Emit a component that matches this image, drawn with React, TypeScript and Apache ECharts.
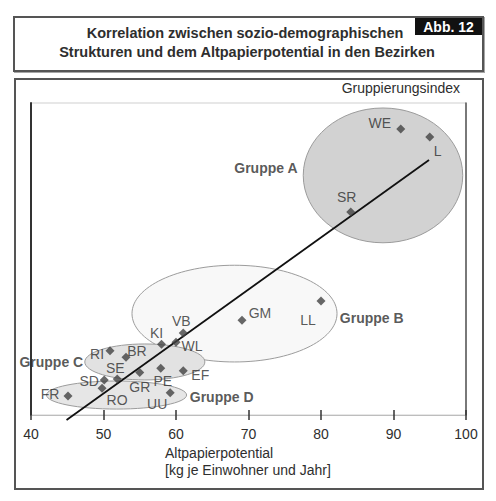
import React, { useEffect, useRef } from 'react'
import * as echarts from 'echarts'

// Bezirke: Altpapierpotential (kg je Einwohner und Jahr) und Gruppierungsindex
const districts = ['WE', 'L', 'SR', 'LL', 'GM', 'VB', 'KI', 'WL', 'RI', 'BR', 'SE', 'GR', 'PE', 'EF', 'SD', 'RO', 'FR', 'UU']
const altpapier = [91.0, 95.0, 84.1, 80.0, 69.1, 61.0, 58.0, 60.0, 50.9, 53.1, 51.9, 55.0, 57.9, 61.0, 50.1, 49.8, 45.1, 59.2]
const gruppierung = [91.7, 89.1, 65.1, 36.5, 30.4, 26.3, 22.7, 23.3, 20.6, 18.5, 11.5, 13.6, 15.0, 14.2, 11.2, 8.6, 6.1, 7.1]

// Regressionsgerade
const trendX = [44.9, 94.9]
const trendY = [-1.6, 81.7]

// Gruppen (Ellipsen)
const groupNames = ['Gruppe A', 'Gruppe B', 'Gruppe C', 'Gruppe D']
const groupCenterX = [88.55, 68.07, 55.7, 51.8]
const groupCenterY = [76.8, 32.5, 17.0, 6.4]
const groupRadiusX = [11.0, 14.14, 8.28, 9.66]
const groupRadiusY = [21.6, 15.5, 5.77, 4.5]
const groupLabelX = [72.4, 87.0, 42.8, 66.3]
const groupLabelY = [79.2, 31.1, 17.0, 5.8]

const xTicks = [40, 50, 60, 70, 80, 90, 100]

// layout only
const labelOffset: Record<string, [number, number]> = {
  WE: [-21, -6], L: [8, 14], SR: [-4, -15], LL: [-13, 19], GM: [18, -7], VB: [-2, -12],
  KI: [-5, -11], WL: [16, 4], RI: [-13, 3], BR: [11, -6], SE: [-2, -11], GR: [0, 14],
  PE: [2, 13], EF: [17, 4], SD: [-15, 1], RO: [15, 12], FR: [-18, -2], UU: [-13, 11],
}
const groupFill = ['#d2d2d2', '#f8f8f8', '#e2e2e2', '#e6e6e6']
const FONT = 'Liberation Sans'
const TXT = '#2e2e2e'
const SYM = 9

export default function App(): JSX.Element {
  const ref = useRef<HTMLDivElement>(null)

  useEffect(() => {
    document.body.style.margin = '0'
    if (!ref.current) return
    const chart = echarts.init(ref.current, null, { renderer: 'svg' })

    const axisCommon = {
      type: 'value',
      min: xTicks[0],
      max: xTicks[xTicks.length - 1],
      interval: 10,
      splitLine: { show: false },
    }

    chart.setOption({
      animation: false,
      backgroundColor: '#ffffff',
      textStyle: { fontFamily: FONT },
      grid: { left: 31, top: 103, right: 30, bottom: 86, show: true, borderColor: '#cfcfcf', borderWidth: 1 },
      xAxis: [
        {
          ...axisCommon,
          axisLine: { lineStyle: { color: '#bdbdbd', width: 1 } },
          axisTick: { length: 5, lineStyle: { color: '#333', width: 1.5 } },
          axisLabel: { color: TXT, fontSize: 14, fontFamily: FONT, margin: 12 },
        },
        {
          ...axisCommon,
          position: 'bottom',
          axisLine: { show: false },
          axisTick: { inside: true, length: 5, lineStyle: { color: '#333', width: 1.5 } },
          axisLabel: { show: false },
        },
      ],
      yAxis: [
        {
          type: 'value', min: 0, max: 100,
          axisLine: { show: true, lineStyle: { color: '#333', width: 2 } },
          axisTick: { show: false }, axisLabel: { show: false }, splitLine: { show: false },
        },
        {
          type: 'value', min: 0, max: 100, position: 'right',
          axisLine: { show: true, lineStyle: { color: '#555', width: 1.5 } },
          axisTick: { show: false }, axisLabel: { show: false }, splitLine: { show: false },
        },
      ],
      graphic: [
        { type: 'rect', shape: { x: 14, y: 17, width: 469, height: 54 }, style: { fill: '#fff', stroke: '#555', lineWidth: 2, shadowColor: 'rgba(0,0,0,0.35)', shadowOffsetX: 1, shadowOffsetY: 1, shadowBlur: 1 }, z: -10 },
        { type: 'rect', shape: { x: 415, y: 18, width: 67, height: 17 }, style: { fill: '#111' } },
        { type: 'text', x: 448.5, y: 26.5, style: { text: 'Abb. 12', fill: '#fff', font: `bold 14px "${FONT}"`, align: 'center', verticalAlign: 'middle' } },
        { type: 'text', x: 245, y: 33, style: { text: 'Korrelation zwischen sozio-demographischen', fill: TXT, font: `bold 14.5px "${FONT}"`, align: 'center', verticalAlign: 'middle' } },
        { type: 'text', x: 247, y: 52, style: { text: 'Strukturen und dem Altpapierpotential in den Bezirken', fill: TXT, font: `bold 14.5px "${FONT}"`, align: 'center', verticalAlign: 'middle' } },
        { type: 'rect', shape: { x: 15, y: 79, width: 468, height: 410 }, style: { fill: 'none', stroke: '#555', lineWidth: 2 }, z: -10 },
        { type: 'text', x: 460, y: 88, style: { text: 'Gruppierungsindex', fill: TXT, font: `14px "${FONT}"`, align: 'right', verticalAlign: 'middle' } },
        { type: 'text', x: 165, y: 453, style: { text: 'Altpapierpotential', fill: TXT, font: `14px "${FONT}"`, align: 'left', verticalAlign: 'middle' } },
        { type: 'text', x: 165, y: 470, style: { text: '[kg je Einwohner und Jahr]', fill: TXT, font: `14px "${FONT}"`, align: 'left', verticalAlign: 'middle' } },
      ],
      series: [
        {
          type: 'custom',
          name: 'Gruppen',
          clip: false,
          data: groupNames.map((n, i) => [groupCenterX[i], groupCenterY[i], groupRadiusX[i], groupRadiusY[i]]),
          encode: { x: 0, y: 1 },
          renderItem: (params: any, api: any) => {
            const c = api.coord([api.value(0), api.value(1)])
            const s = api.size([api.value(2), api.value(3)])
            return {
              type: 'ellipse',
              shape: { cx: c[0], cy: c[1], rx: s[0], ry: s[1] },
              style: { fill: groupFill[params.dataIndex], stroke: '#9c9c9c', lineWidth: 1 },
            }
          },
          z: 1,
        },
        {
          type: 'line',
          name: 'Trend',
          clip: false,
          data: trendX.map((x, i) => [x, trendY[i]]),
          symbol: 'none',
          lineStyle: { color: '#111', width: 1.8 },
          z: 2,
        },
        {
          type: 'scatter',
          name: 'Bezirke',
          symbol: 'diamond',
          symbolSize: SYM,
          itemStyle: { color: '#424242' },
          data: districts.map((d, i) => ({
            name: d,
            value: [altpapier[i], gruppierung[i]],
            label: { position: [SYM / 2 + labelOffset[d][0], SYM / 2 + labelOffset[d][1]] },
          })),
          label: {
            show: true, formatter: '{b}', align: 'center', verticalAlign: 'middle',
            color: TXT, fontSize: 14, fontFamily: FONT,
          },
          z: 3,
        },
        {
          type: 'scatter',
          name: 'Gruppenlabels',
          symbolSize: 0,
          clip: false,
          data: groupNames.map((g, i) => ({ name: g, value: [groupLabelX[i], groupLabelY[i]] })),
          label: {
            show: true, position: [0, 0], formatter: '{b}', align: 'center', verticalAlign: 'middle',
            color: TXT, fontSize: 14, fontWeight: 'bold', fontFamily: FONT,
          },
          z: 4,
        },
      ],
    })

    return () => chart.dispose()
  }, [])

  return <div ref={ref} style={{ width: 496, height: 501 }} />
}
